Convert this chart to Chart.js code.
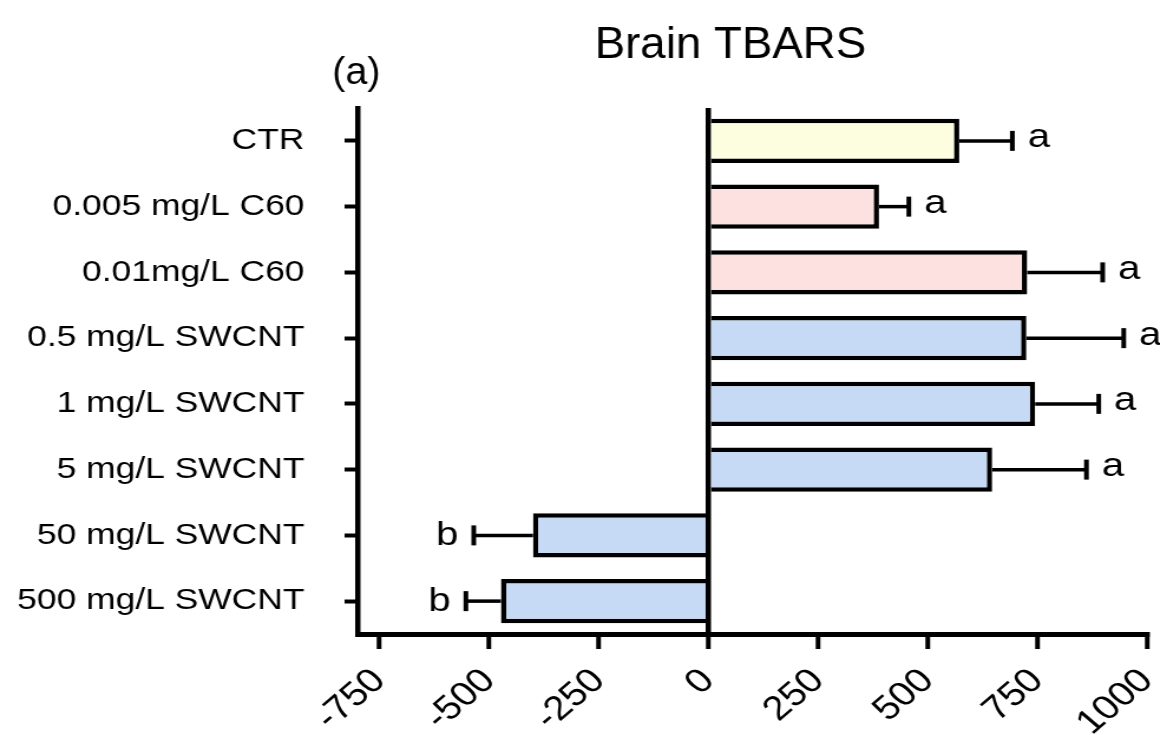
<!DOCTYPE html>
<html>
<head>
<meta charset="utf-8">
<title>Brain TBARS</title>
<script src="https://cdn.jsdelivr.net/npm/chart.js@4.4.1/dist/chart.umd.min.js"></script>
<style>
    html, body { margin: 0; padding: 0; background: #fff; overflow: hidden; }
    /* the figure uses slightly wide lettering, so the canvas is stretched sideways */
    #wrap { width: 983px; height: 735px; transform: scaleX(1.18); transform-origin: 0 0; }
</style>
</head>
<body>
<div id="wrap"><canvas id="tbarsChart"></canvas></div>
<script>
const groups = ['CTR', '0.005 mg/L C60', '0.01mg/L C60', '0.5 mg/L SWCNT',
    '1 mg/L SWCNT', '5 mg/L SWCNT', '50 mg/L SWCNT', '500 mg/L SWCNT'];
const tbars = [572, 389, 727, 725, 745, 647, -400, -473];
const sem = [121, 68, 172, 222, 145, 215, 135, 80];
const letters = ['a', 'a', 'a', 'a', 'a', 'a', 'b', 'b'];
const xTicks = [-750, -500, -250, 0, 250, 500, 750, 1000];

const fills = ['#FDFDE0', '#FDE0E0', '#FDE0E0', '#C6DAF5',
    '#C6DAF5', '#C6DAF5', '#C6DAF5', '#C6DAF5'];
const family = "'Liberation Sans', Arial, Helvetica, sans-serif";

document.addEventListener("DOMContentLoaded", () => {

    // error bars (one-sided, away from zero) plus the significance letters
    const errorBars = {
        id: 'errorBars',
        afterDatasetsDraw(chart) {
            const { ctx, scales: { x, y } } = chart;
            ctx.save();
            ctx.strokeStyle = '#000';
            ctx.fillStyle = '#000';
            ctx.font = '34px ' + family;
            ctx.textBaseline = 'middle';
            tbars.forEach((v, i) => {
                const dir = v >= 0 ? 1 : -1;
                const x0 = x.getPixelForValue(v);
                const x1 = x.getPixelForValue(v + dir * sem[i]);
                const yc = y.getPixelForValue(i);

                ctx.lineWidth = 3.5;
                ctx.beginPath();
                ctx.moveTo(x0, yc);
                ctx.lineTo(x1, yc);
                ctx.stroke();

                ctx.lineWidth = 4;
                ctx.beginPath();
                ctx.moveTo(x1, yc - 10);
                ctx.lineTo(x1, yc + 10);
                ctx.stroke();

                ctx.textAlign = dir > 0 ? 'left' : 'right';
                ctx.fillText(letters[i], x1 + dir * 13, letters[i] === 'a' ? yc - 3 : yc);
            });
            ctx.restore();
        }
    };

    // title and panel tag, set in a narrower face than the axis text
    const headings = {
        id: 'headings',
        afterDraw(chart) {
            const ctx = chart.ctx;
            ctx.save();
            ctx.fillStyle = '#000';
            ctx.textAlign = 'center';
            ctx.textBaseline = 'alphabetic';
            ctx.scale(0.88, 1);
            ctx.font = '44px ' + family;
            ctx.fillText('Brain TBARS', 619 / 0.88, 58);
            ctx.font = '38px ' + family;
            ctx.fillText('(a)', 302 / 0.88, 84);
            ctx.restore();
        }
    };

    const chart = document.getElementById('tbarsChart').getContext('2d');

    window.tbarsChart = new Chart(chart, {
        type: 'bar',
        data: {
            labels: groups,
            datasets: [{
                data: tbars,
                backgroundColor: fills,
                borderColor: '#000',
                borderWidth: 4.5,
                borderSkipped: 'start',
                barPercentage: 0.67,
                categoryPercentage: 1
            }]
        },
        options: {
            indexAxis: 'y',
            responsive: true,
            maintainAspectRatio: false,
            animation: false,
            layout: {
                padding: { top: 108, right: 11, left: 0, bottom: 0 }
            },
            plugins: {
                legend: { display: false },
                tooltip: { enabled: false },
                title: { display: false }
            },
            scales: {
                x: {
                    min: -800,
                    max: 1000,
                    border: { display: true, color: '#000', width: 5 },
                    grid: {
                        color: c => (c.tick && c.tick.value === 0) ? '#000' : 'rgba(0,0,0,0)',
                        lineWidth: 4.5,
                        tickColor: '#000',
                        tickLength: 15,
                        tickWidth: 4
                    },
                    ticks: {
                        color: '#000',
                        font: { size: 34, family: family },
                        minRotation: 45,
                        maxRotation: 45,
                        padding: 12,
                        callback: v => String(v)
                    },
                    afterBuildTicks: s => { s.ticks = xTicks.map(v => ({ value: v })); },
                    afterFit: s => {
                        s.height = 101;
                        s.paddingLeft = 0;
                        s.paddingRight = 0;
                    }
                },
                y: {
                    border: { display: true, color: '#000', width: 4.5 },
                    grid: {
                        drawOnChartArea: false,
                        offset: false,
                        tickColor: '#000',
                        tickLength: 11,
                        tickWidth: 4
                    },
                    ticks: {
                        color: '#000',
                        font: { size: 30, family: family },
                        padding: 34
                    },
                    afterFit: s => { s.width = 303; }
                }
            }
        },
        plugins: [errorBars, headings]
    });
});
</script>
</body>
</html>
